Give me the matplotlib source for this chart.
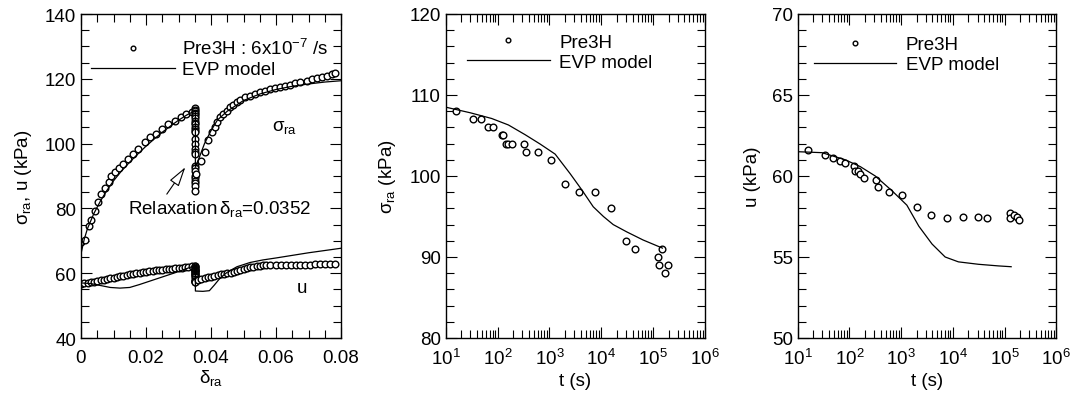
import numpy as np
import matplotlib
matplotlib.use("Agg")
import matplotlib.pyplot as plt
from matplotlib.ticker import MultipleLocator, LogLocator, NullFormatter

plt.rcParams['font.family'] = ['Liberation Sans', 'DejaVu Sans']
plt.rcParams['mathtext.fontset'] = 'custom'
plt.rcParams['mathtext.rm'] = 'Liberation Sans'
plt.rcParams['mathtext.it'] = 'Liberation Sans'
plt.rcParams['mathtext.sf'] = 'Liberation Sans'
plt.rcParams['font.size'] = 13.5

# --- panel 1: stress path vs strain -------------------------------------
# loading before relaxation (measured sigma_ra)
d_load1 = [0.0001, 0.0011, 0.0024, 0.0032, 0.0042, 0.0052, 0.0063, 0.0073, 0.0085,
           0.0093, 0.0106, 0.0116, 0.0129, 0.0145, 0.0160, 0.0176, 0.0196, 0.0212,
           0.0232, 0.0248, 0.0268, 0.0289, 0.0309, 0.0324, 0.0340, 0.0350]
s_load1 = [69.5, 70.3, 74.5, 76.5, 79.3, 82.1, 84.4, 86.2, 88.2,
           89.9, 91.3, 92.6, 93.7, 95.2, 96.8, 98.4, 100.4, 101.9,
           103.0, 104.5, 106.0, 107.1, 108.1, 109.1, 109.7, 110.9]
# relaxation at delta = 0.0352
s_relax1 = [110.5, 110.0, 109.5, 109.0, 108.5, 108.0, 107.0, 106.5, 106.0, 105.0,
            104.5, 104.0, 103.5, 101.4, 99.9, 98.3, 97.5, 96.8, 93.2, 92.4,
            91.6, 90.1, 89.5, 88.5, 87.8, 87.0, 85.5]
d_relax = 0.0352
# reloading after relaxation
d_load2 = [0.0355, 0.0369, 0.0381, 0.0392, 0.0403, 0.0411, 0.0418, 0.0428, 0.0438,
           0.0449, 0.0459, 0.0469, 0.0480, 0.0490, 0.0505, 0.0521, 0.0536, 0.0551,
           0.0567, 0.0582, 0.0598, 0.0613, 0.0628, 0.0644, 0.0659, 0.0675, 0.0695,
           0.0711, 0.0726, 0.0742, 0.0757, 0.0772, 0.0780]
s_load2 = [90.6, 94.7, 97.5, 101.1, 103.5, 105.0, 106.6, 108.1, 109.1,
           110.2, 111.2, 112.0, 112.7, 113.5, 114.3, 114.8, 115.3, 115.8,
           116.3, 116.9, 117.2, 117.6, 117.9, 118.2, 118.6, 119.1, 119.4,
           119.9, 120.2, 120.5, 120.9, 121.5, 121.7]

# pore pressure u measured
d_u = [0.000, 0.001, 0.002, 0.003, 0.004, 0.005, 0.006, 0.007, 0.008, 0.009,
       0.010, 0.011, 0.012, 0.013, 0.014, 0.015, 0.016, 0.017, 0.018, 0.019,
       0.020, 0.021, 0.022, 0.023, 0.024, 0.025, 0.026, 0.027, 0.028, 0.029,
       0.030, 0.031, 0.032, 0.033, 0.034, 0.035]
u_load1 = [56.8, 56.9, 57.0, 57.2, 57.4, 57.6, 57.8, 58.0, 58.2, 58.4,
           58.6, 58.8, 59.0, 59.2, 59.4, 59.6, 59.8, 60.0, 60.2, 60.3,
           60.4, 60.6, 60.7, 60.9, 61.0, 61.1, 61.2, 61.3, 61.4, 61.5,
           61.6, 61.7, 61.8, 62.0, 62.1, 62.3]
u_relax1 = [62.3, 62.0, 61.6, 61.3, 61.1, 60.9, 60.8, 60.6, 60.3, 60.2, 59.9,
            59.7, 59.3, 59.0, 58.8, 58.1, 57.6, 57.4, 57.5, 57.7, 57.3]
d_u2 = [0.036, 0.037, 0.038, 0.039, 0.040, 0.041, 0.042, 0.043, 0.044, 0.045,
        0.046, 0.047, 0.048, 0.049, 0.050, 0.051, 0.052, 0.053, 0.054, 0.055,
        0.056, 0.057, 0.058, 0.060, 0.0615, 0.063, 0.0645, 0.066, 0.0675, 0.069,
        0.0705, 0.072, 0.0735, 0.075, 0.0765, 0.078]
u_load2 = [57.9, 58.3, 58.5, 58.7, 58.9, 59.1, 59.4, 59.6, 59.8, 60.0,
           60.2, 60.5, 60.8, 61.0, 61.3, 61.5, 61.8, 62.0, 62.2, 62.3,
           62.4, 62.5, 62.5, 62.6, 62.6, 62.6, 62.6, 62.6, 62.6, 62.6,
           62.6, 62.7, 62.7, 62.7, 62.7, 62.8]

# EVP model curves, panel 1
d_evp_s = [0.0, 0.001, 0.002, 0.004, 0.006, 0.008, 0.010, 0.0125, 0.015, 0.0175,
           0.020, 0.0225, 0.025, 0.0275, 0.030, 0.0325, 0.0352, 0.0352, 0.0365,
           0.038, 0.040, 0.042, 0.045, 0.050, 0.055, 0.060, 0.065, 0.070, 0.075, 0.080]
s_evp = [66.0, 70.5, 73.8, 78.5, 82.3, 85.6, 88.5, 91.6, 94.3, 96.8,
         99.2, 101.4, 103.5, 105.4, 107.2, 108.8, 110.2, 92.7, 96.0,
         100.0, 104.0, 107.3, 110.0, 113.3, 115.3, 116.7, 117.7, 118.4, 119.0, 119.4]
d_evp_u = [0.0, 0.003, 0.006, 0.009, 0.012, 0.015, 0.018, 0.021, 0.024, 0.027,
           0.030, 0.033, 0.0352, 0.0352, 0.0375, 0.0395, 0.041, 0.0428, 0.045,
           0.048, 0.052, 0.056, 0.060, 0.065, 0.070, 0.075, 0.080]
u_evp = [57.0, 56.8, 56.2, 55.6, 55.4, 55.6, 56.5, 57.5, 58.5, 59.5,
         60.5, 61.6, 62.4, 54.5, 54.4, 54.6, 56.3, 58.5, 60.3,
         62.0, 63.3, 64.1, 64.7, 65.5, 66.3, 67.0, 67.7]

# --- panels 2 and 3: relaxation vs time ----------------------------------
t_obs = [16, 33, 49, 66, 82, 120, 130, 145, 160, 192, 320, 360, 590, 1060, 2030,
         3800, 7700, 15500, 30000, 45500, 125000, 128000, 150000, 173000, 193000]
s_obs = [108, 107, 107, 106, 106, 105, 105, 104, 104, 104, 104, 103, 103, 102, 99,
         98, 98, 96, 92, 91, 90, 89, 91, 88, 89]
u_obs = [61.6, 61.3, 61.13, 60.9, 60.8, 60.6, 60.33, 60.33, 60.15, 59.9, 59.73, 59.3,
         59.0, 58.8, 58.1, 57.6, 57.4, 57.5, 57.5, 57.4, 57.7, 57.4, 57.6, 57.5, 57.3]

t_evp_s = [10, 30, 77, 162, 340, 660, 1290, 2500, 4200, 7000, 11000, 17000,
           31000, 64000, 151000]
s_evp_t = [108.5, 107.8, 107.1, 106.3, 105.1, 103.95, 102.7, 100.3, 98.3, 96.2,
           95.0, 94.0, 93.1, 92.1, 91.1]
t_evp_u = [10, 29.5, 83, 162, 316, 660, 1290, 2200, 3960, 7100, 12800, 31300,
           76000, 134000]
u_evp_t = [61.5, 61.44, 61.0, 60.58, 60.0, 59.1, 58.2, 56.9, 55.8, 55.0, 54.7,
           54.55, 54.45, 54.4]

W, H = 1072, 406
fig = plt.figure(figsize=(W / 100, H / 100), dpi=100)
ax1 = fig.add_axes([81 / W, 67 / H, 260 / W, 324 / H])
ax2 = fig.add_axes([445.7 / W, 67 / H, 259.3 / W, 324 / H])
ax3 = fig.add_axes([797.7 / W, 67 / H, 258.6 / W, 324 / H])

mk = dict(ls='none', marker='o', ms=4.8, mfc='white', mec='black', mew=1.0)
lw = 0.9


def style(ax):
    for s in ax.spines.values():
        s.set_linewidth(1.0)
    ax.tick_params(which='both', direction='in', top=True, right=True,
                   width=0.8, colors='black', labelsize=13.5)
    ax.tick_params(which='major', length=8)
    ax.tick_params(which='minor', length=5.5)


# panel 1
ax1.plot(d_load1, s_load1, **mk, label=r'Pre3H : 6x10$^{-7}$ /s')
ax1.plot([d_relax] * len(s_relax1), s_relax1, **mk)
ax1.plot(d_load2, s_load2, **mk)
ax1.plot(d_u, u_load1, **mk)
ax1.plot([d_relax] * len(u_relax1), u_relax1, **mk)
ax1.plot(d_u2, u_load2, **mk)
ax1.plot(d_evp_s, s_evp, '-k', lw=lw, label='EVP model')
ax1.plot(d_evp_u, u_evp, '-k', lw=lw)
ax1.set_xlim(0, 0.08)
ax1.set_ylim(40, 140)
ax1.xaxis.set_major_locator(MultipleLocator(0.02))
ax1.xaxis.set_minor_locator(MultipleLocator(0.005))
ax1.yaxis.set_major_locator(MultipleLocator(20))
ax1.yaxis.set_minor_locator(MultipleLocator(5))
ax1.xaxis.set_major_formatter(plt.FuncFormatter(lambda v, p: '0' if abs(v) < 1e-9 else f'{v:g}'))
style(ax1)
ax1.tick_params(axis='x', pad=8)
ax1.set_xlabel(r'$\delta_{\rm ra}$', labelpad=1)
ax1.set_ylabel(r'$\sigma_{\rm ra}$, u (kPa)', labelpad=8)
ax1.text(0.0628, 105.4, r'$\sigma_{\rm ra}$', ha='center', va='center')
ax1.text(0.068, 55.7, 'u', ha='center', va='center')
ax1.annotate('', xy=(0.0321, 92.7), xytext=(0.0264, 84.4),
             arrowprops=dict(arrowstyle='-|>,head_length=0.9,head_width=0.25',
                             fc='white', ec='black', lw=0.8, shrinkA=0, shrinkB=0))
ax1.text(0.0145, 80.0, r'Relaxation$\,\delta_{\rm ra}$=0.0352', ha='left', va='center')
ax1.legend(loc='upper left', bbox_to_anchor=(0.037, 0.925), frameon=False,
           borderpad=0, borderaxespad=0, handlelength=4.5, handletextpad=0.36,
           labelspacing=0.15, markerscale=0.7, numpoints=1)

# panels 2 and 3
for ax, yo, tm, ym, lims, major, minor, lab, anchor in [
        (ax2, s_obs, t_evp_s, s_evp_t, (80, 120), 10, 2, r'$\sigma_{\rm ra}$ (kPa)', (0.083, 0.94)),
        (ax3, u_obs, t_evp_u, u_evp_t, (50, 70), 5, 1, 'u (kPa)', (0.062, 0.932))]:
    ax.plot(t_obs, yo, **mk, label='Pre3H')
    ax.plot(tm, ym, '-k', lw=lw, label='EVP model')
    ax.set_xscale('log')
    ax.set_xlim(10, 1e6)
    ax.set_ylim(*lims)
    ax.xaxis.set_major_locator(LogLocator(base=10, numticks=10))
    ax.xaxis.set_minor_locator(LogLocator(base=10, subs=np.arange(2, 10), numticks=20))
    ax.xaxis.set_minor_formatter(NullFormatter())
    ax.yaxis.set_major_locator(MultipleLocator(major))
    ax.yaxis.set_minor_locator(MultipleLocator(minor))
    style(ax)
    ax.tick_params(axis='x', pad=7)
    ax.set_xlabel('t (s)', labelpad=3)
    ax.set_ylabel(lab, labelpad=8)
    ax.legend(loc='upper left', bbox_to_anchor=anchor, frameon=False,
              borderpad=0, borderaxespad=0, handlelength=4.4, handletextpad=0.5,
              labelspacing=0.15, markerscale=0.7, numpoints=1)

fig.savefig('out.png', dpi=100)
